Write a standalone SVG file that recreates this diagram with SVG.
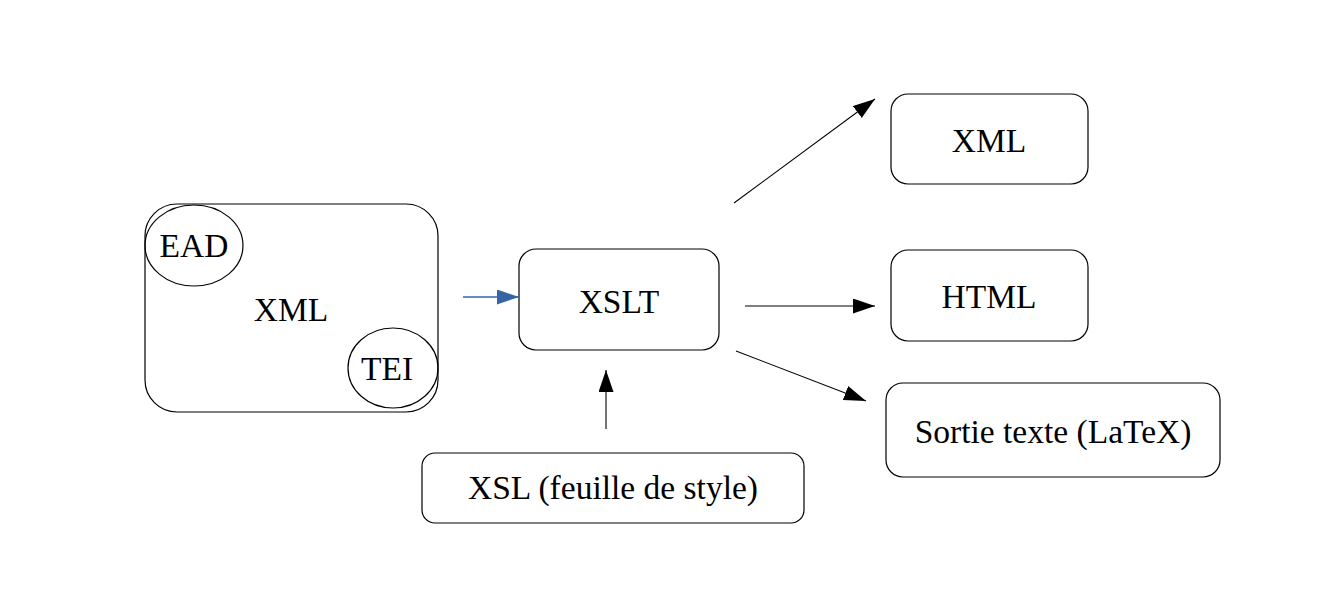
<svg xmlns="http://www.w3.org/2000/svg" width="1338" height="613" viewBox="0 0 1338 613">
<style>
.box{fill:#fff;stroke:#000;stroke-width:1.2}
.ell{fill:none;stroke:#000;stroke-width:1.2}
.lbl{font-family:"Liberation Serif","Times New Roman",serif;font-size:33.5px;fill:#000;text-anchor:middle}
.edge{stroke:#000;stroke-width:1.1;fill:none;marker-end:url(#ah)}
.edgeb{stroke:#3465a4;stroke-width:1.3;fill:none;marker-end:url(#ahb)}
</style>
<defs>
<marker id="ah" markerUnits="userSpaceOnUse" markerWidth="23" markerHeight="16" refX="22" refY="7.5" orient="auto" viewBox="0 0 23 16"><path d="M0,0 L22,7.5 L0,15 z" fill="#000"/></marker>
<marker id="ahb" markerUnits="userSpaceOnUse" markerWidth="23" markerHeight="16" refX="22" refY="7.5" orient="auto" viewBox="0 0 23 16"><path d="M0,0 L22,7.5 L0,15 z" fill="#3465a4"/></marker>
</defs>
<rect width="1338" height="613" fill="#fff"/>
<g id="xml-source">
<rect class="box" x="145" y="204" width="293" height="208" rx="32" ry="32"/>
<text class="lbl" x="291" y="321">XML</text>
</g>
<g id="ead">
<ellipse class="ell" cx="194" cy="245.5" rx="49" ry="40.5"/>
<text class="lbl" x="194" y="257">EAD</text>
</g>
<g id="tei">
<ellipse class="ell" cx="393" cy="368" rx="45" ry="40"/>
<text class="lbl" x="387" y="380">TEI</text>
</g>
<g id="xslt">
<rect class="box" x="519" y="249" width="200" height="101" rx="17" ry="17"/>
<text class="lbl" x="619" y="313">XSLT</text>
</g>
<g id="xsl">
<rect class="box" x="422" y="453" width="382" height="70" rx="13" ry="13"/>
<text class="lbl" x="613" y="499">XSL (feuille de style)</text>
</g>
<g id="xml-out">
<rect class="box" x="891" y="94" width="197" height="90" rx="17" ry="17"/>
<text class="lbl" x="989" y="152">XML</text>
</g>
<g id="html-out">
<rect class="box" x="891" y="250" width="197" height="91" rx="17" ry="17"/>
<text class="lbl" x="989" y="308">HTML</text>
</g>
<g id="text-out">
<rect class="box" x="886" y="383" width="334" height="94" rx="17" ry="17"/>
<text class="lbl" x="1053" y="443">Sortie texte (LaTeX)</text>
</g>
<g id="connectors">
<line class="edgeb" x1="463" y1="297" x2="519" y2="297"/>
<line class="edge" x1="606" y1="429" x2="606" y2="370"/>
<line class="edge" x1="734" y1="203" x2="875" y2="99"/>
<line class="edge" x1="745" y1="306" x2="875" y2="306"/>
<line class="edge" x1="736" y1="351" x2="866" y2="401"/>
</g>
</svg>
